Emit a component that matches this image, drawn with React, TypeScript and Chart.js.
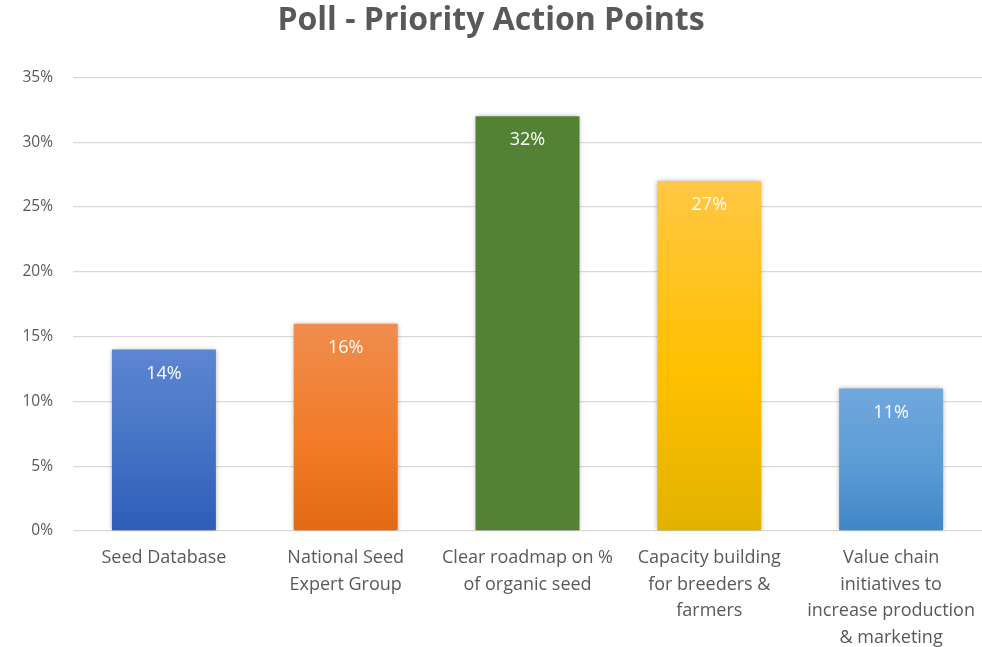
import React, { useEffect, useRef } from "react";
import { Chart, registerables } from "chart.js";

Chart.register(...registerables);

const title = "Poll - Priority Action Points";
const categories: string[][] = [
  ["Seed Database"],
  ["National Seed", "Expert Group"],
  ["Clear roadmap on %", "of organic seed"],
  ["Capacity building", "for breeders &", "farmers"],
  ["Value chain", "initiatives to", "increase production", "& marketing"],
];
const values = [14, 16, 32, 27, 11];
const yMax = 35;
const yStep = 5;
const barStops: string[][] = [
  ["#5d86d2", "#4472c4", "#2d5db7"],
  ["#f08c4e", "#f27c28", "#e36a14"],
  ["#548235", "#548235", "#548235"],
  ["#ffc744", "#ffc000", "#e2b200"],
  ["#70a8dd", "#5b9bd5", "#3f86c7"],
];

const FONT = "'Open Sans', Lato, sans-serif";

const shadowPlugin = {
  id: "barShadow",
  beforeDatasetsDraw(chart: any) {
    const c = chart.ctx;
    c.save();
    c.shadowColor = "rgba(0,0,0,0.35)";
    c.shadowBlur = 5;
    c.shadowOffsetX = 0;
    c.shadowOffsetY = 0;
  },
  afterDatasetsDraw(chart: any) {
    chart.ctx.restore();
  },
};

const labelPlugin = {
  id: "innerLabels",
  afterDraw(chart: any) {
    const c = chart.ctx;
    const meta = chart.getDatasetMeta(0);
    c.save();
    c.fillStyle = "#ffffff";
    c.font = `18px ${FONT}`;
    c.textAlign = "center";
    c.textBaseline = "middle";
    meta.data.forEach((bar: any, i: number) => {
      c.fillText(values[i] + "%", bar.x, bar.y + 24);
    });
    c.restore();
  },
};

export default function App() {
  const ref = useRef<HTMLCanvasElement | null>(null);

  useEffect(() => {
    if (!ref.current) return;
    const chart = new Chart(ref.current, {
      type: "bar",
      data: {
        labels: categories,
        datasets: [
          {
            data: values,
            backgroundColor: (ctx: any) => {
              const chart = ctx.chart;
              const i = ctx.dataIndex ?? 0;
              const stops = barStops[i % barStops.length];
              if (!chart.chartArea || !chart.scales.y) return stops[1];
              const ys = chart.scales.y;
              const top = ys.getPixelForValue(values[i]);
              const bottom = ys.getPixelForValue(0);
              const g = chart.ctx.createLinearGradient(0, top, 0, bottom);
              g.addColorStop(0, stops[0]);
              g.addColorStop(0.55, stops[1]);
              g.addColorStop(1, stops[2]);
              return g;
            },
            borderWidth: 0,
            barPercentage: 0.572,
            categoryPercentage: 1,
          },
        ],
      },
      options: {
        responsive: false,
        animation: false,
        layout: { padding: { left: 0, right: 0, top: 0, bottom: 0 } },
        plugins: {
          legend: { display: false },
          tooltip: { enabled: false },
          title: {
            display: true,
            text: title,
            color: "#595959",
            font: { family: FONT, size: 32, weight: "bold" },
            padding: { top: 2, bottom: 37 },
          },
        },
        scales: {
          x: {
            grid: { display: false, drawTicks: false },
            border: { display: false },
            ticks: {
              color: "#595959",
              font: { family: FONT, size: 18, lineHeight: 1.47 },
              padding: 14,
              maxRotation: 0,
              minRotation: 0,
              autoSkip: false,
            },
            afterFit: (scale: any) => {
              scale.height = 116;
              scale.paddingLeft = 0;
              scale.paddingRight = 0;
            },
          },
          y: {
            min: 0,
            max: yMax,
            grid: { color: "#d9d9d9", lineWidth: 1.3, drawTicks: false },
            border: { display: false },
            ticks: {
              stepSize: yStep,
              color: "#595959",
              font: { family: FONT, size: 15.5 },
              padding: 20,
              callback: (v: any) => v + "%",
            },
            afterFit: (scale: any) => {
              scale.width = 73;
            },
          },
        },
      },
      plugins: [shadowPlugin, labelPlugin],
    });
    return () => chart.destroy();
  }, []);

  return (
    <div style={{ position: "fixed", left: 0, top: 0, width: 982, height: 647, background: "#fff" }}>
      <canvas ref={ref} width={982} height={647} />
    </div>
  );
}
